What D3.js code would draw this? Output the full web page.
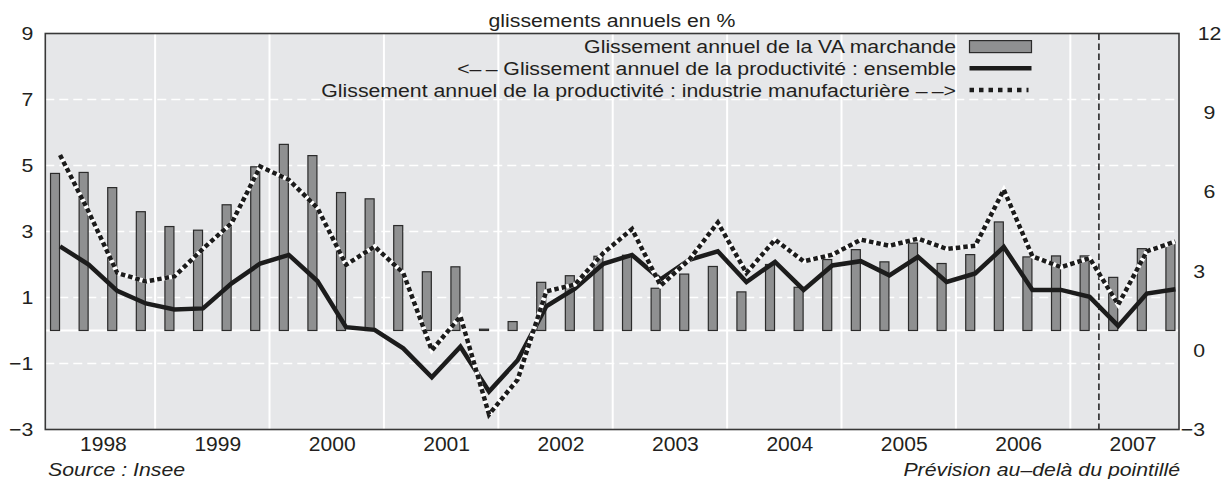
<!DOCTYPE html>
<html>
<head>
<meta charset="utf-8">
<script src="https://cdn.jsdelivr.net/npm/d3@7"></script>
<style>
  body { margin: 0; background: #fff; }
  svg text {
    font-family: "Liberation Sans", Arial, Helvetica, sans-serif;
    font-size: 18.5px;
    fill: #231f20;
  }
  svg text.italic { font-style: italic; }
  svg .years text { font-size: 19.5px; }
</style>
</head>
<body>
<svg id="chart" width="1225" height="479"></svg>
<script>
// glissements annuels trimestriels, 1998T1 - 2007T4
const years = [1998, 1999, 2000, 2001, 2002, 2003, 2004, 2005, 2006, 2007]
const quarters = years.flatMap(y => [1, 2, 3, 4].map(q => y + "T" + q))

// VA marchande : barres, axe de gauche
const vaMarchande = [
  4.76, 4.79, 4.33, 3.60,
  3.15, 3.04, 3.81, 4.96,
  5.64, 5.30, 4.18, 3.99,
  3.18, 1.78, 1.93, 0.04,
  0.27, 1.46, 1.66, 2.25,
  2.28, 1.28, 1.71, 1.94,
  1.17, 2.00, 1.31, 2.15,
  2.45, 2.08, 2.65, 2.03,
  2.30, 3.29, 2.23, 2.26,
  2.26, 1.61, 2.48, 2.62
]

// productivité, ensemble : trait plein, axe de gauche
const prodEnsemble = [
  2.55, 2.00, 1.20, 0.82,
  0.64, 0.67, 1.43, 2.03,
  2.29, 1.50, 0.10, 0.02,
  -0.54, -1.42, -0.49, -1.85,
  -0.90, 0.73, 1.27, 2.02,
  2.29, 1.55, 2.14, 2.40,
  1.47, 2.08, 1.23, 1.97,
  2.10, 1.67, 2.23, 1.47,
  1.73, 2.53, 1.23, 1.23,
  1.02, 0.14, 1.12, 1.25
]

// productivité, industrie manufacturière : pointillés, axe de droite
const prodManuf = [
  7.40, 5.25, 2.93, 2.61,
  2.80, 3.85, 4.82, 6.96,
  6.46, 5.39, 3.24, 3.93,
  2.93, 0.00, 1.29, -2.43,
  -1.11, 2.23, 2.49, 3.69,
  4.59, 2.45, 3.43, 4.84,
  2.93, 4.19, 3.37, 3.62,
  4.19, 3.96, 4.23, 3.84,
  3.96, 6.08, 3.56, 3.15,
  3.49, 1.73, 3.75, 4.12
]

const leftTicks = [-3, -1, 1, 3, 5, 7, 9]
const rightTicks = [-3, 0, 3, 6, 9, 12]
const gridValues = [-1, 1, 3, 5, 7]
const forecastStart = 2007.25

const title = "glissements annuels en %"
const legendLabels = [
  "Glissement annuel de la VA marchande",
  "<\u2013\u2009\u2013 Glissement annuel de la productivité : ensemble",
  "Glissement annuel de la productivité : industrie manufacturière \u2013\u2009\u2013>"
]
const sourceNote = "Source : Insee"
const forecastNote = "Prévision au\u2013delà du pointillé"

// ---- layout ----
const plot = { left: 45.3, top: 33.5, right: 1179, bottom: 429.5 }
const SX = 1.15      // the source lettering is stretched sideways
const barW = 10

const svg = d3.select("#chart")

const x = d3.scaleLinear().domain([1998.04, 2007.95]).range([plot.left, plot.right])
const yL = d3.scaleLinear().domain([-3, 9]).range([plot.bottom, plot.top])
const yR = d3.scaleLinear().domain([-3, 12]).range([plot.bottom, plot.top])

const data = quarters.map((q, i) => ({
  q,
  t: years[0] + i / 4 + 0.125,
  va: vaMarchande[i],
  ens: prodEnsemble[i],
  manuf: prodManuf[i]
}))

// stretch a text about its anchor point
function stretch(sel, sx) {
  sel.each(function () {
    const t = d3.select(this)
    const ax = +t.attr("x") || 0
    t.attr("transform", `translate(${ax * (1 - sx)},0) scale(${sx},1)`)
  })
}

function addText(px, py, str, anchor, cls) {
  return svg.append("text")
    .attr("class", cls || null)
    .attr("text-anchor", anchor)
    .attr("transform", `translate(${px},${py}) scale(${SX},1)`)
    .text(str)
}

// background
svg.append("rect")
  .attr("x", plot.left).attr("y", plot.top)
  .attr("width", plot.right - plot.left)
  .attr("height", plot.bottom - plot.top)
  .attr("fill", "#e6e7e9")

// horizontal dashed grid
svg.append("g").selectAll("line").data(gridValues).join("line")
  .attr("x1", plot.left).attr("x2", plot.right)
  .attr("y1", d => yL(d)).attr("y2", d => yL(d))
  .attr("stroke", "#fff").attr("stroke-width", 1.5)
  .attr("stroke-dasharray", "9,5")

// year separators
svg.append("g").selectAll("line").data(years.slice(1)).join("line")
  .attr("x1", d => x(d)).attr("x2", d => x(d))
  .attr("y1", plot.top).attr("y2", plot.bottom)
  .attr("stroke", "#fff").attr("stroke-width", 2)

// zero line
svg.append("line")
  .attr("x1", plot.left).attr("x2", plot.right)
  .attr("y1", yL(0)).attr("y2", yL(0))
  .attr("stroke", "#fff").attr("stroke-width", 2)

// forecast marker
svg.append("line")
  .attr("x1", x(forecastStart)).attr("x2", x(forecastStart))
  .attr("y1", plot.top).attr("y2", plot.bottom)
  .attr("stroke", "#1a1a1a").attr("stroke-width", 1.5)
  .attr("stroke-dasharray", "6.5,3.5")

// bars
svg.append("g").selectAll("rect").data(data).join("rect")
  .attr("x", d => x(d.t) - (barW - 1) / 2)
  .attr("y", d => Math.min(yL(d.va), yL(0)))
  .attr("width", barW - 1)
  .attr("height", d => Math.abs(yL(0) - yL(d.va)))
  .attr("fill", "#8f9091")
  .attr("stroke", "#2b2b2b")
  .attr("stroke-width", 1.2)

// lines (points sit on the right edge of each bar)
const lineEns = d3.line().x(d => x(d.t) + barW / 2).y(d => yL(d.ens))
const lineManuf = d3.line().x(d => x(d.t) + barW / 2).y(d => yR(d.manuf))

svg.append("path").datum(data)
  .attr("d", lineEns)
  .attr("fill", "none")
  .attr("stroke", "#1c1c1c")
  .attr("stroke-width", 4.5)
  .attr("stroke-linejoin", "miter")

svg.append("path").datum(data)
  .attr("d", lineManuf)
  .attr("fill", "none")
  .attr("stroke", "#fff")
  .attr("stroke-width", 4.5)
svg.append("path").datum(data)
  .attr("d", lineManuf)
  .attr("fill", "none")
  .attr("stroke", "#1c1c1c")
  .attr("stroke-width", 4.5)
  .attr("stroke-dasharray", "4.5,3")

// frame
svg.append("rect")
  .attr("x", plot.left).attr("y", plot.top)
  .attr("width", plot.right - plot.left)
  .attr("height", plot.bottom - plot.top)
  .attr("fill", "none")
  .attr("stroke", "#383838")
  .attr("stroke-width", 1.6)

// axes
const gLeft = svg.append("g")
  .attr("transform", `translate(${plot.left},0)`)
  .call(d3.axisLeft(yL).tickValues(leftTicks).tickSize(0).tickPadding(12).tickFormat(d3.format("d")))
gLeft.select(".domain").remove()
gLeft.selectAll("text").call(stretch, SX)

const gRight = svg.append("g")
  .attr("transform", `translate(${plot.right},0)`)
  .call(d3.axisRight(yR).tickValues(rightTicks).tickSize(0).tickFormat(d3.format("d")))
gRight.select(".domain").remove()
// upper labels sit a little further right in the source
gRight.selectAll("text")
  .attr("text-anchor", d => d >= 6 ? "middle" : "end")
  .attr("x", d => d >= 6 ? 30.5 : 26)
  .call(stretch, SX)

const gBottom = svg.append("g")
  .attr("class", "years")
  .attr("transform", `translate(${barW / 2},${plot.bottom})`)
  .call(d3.axisBottom(x).tickValues(years.map(y => y + 0.5)).tickSize(0).tickPadding(7.5)
    .tickFormat(d => String(Math.floor(d))))
gBottom.select(".domain").remove()
gBottom.selectAll("text").call(stretch, 1.08)

// title
addText(612, 27, title, "middle")

// legend
const legendRight = 956
const legendTop = 53.3
const legendStep = 21.7
const swX0 = 969.5, swX1 = 1031.5

legendLabels.forEach((label, i) => {
  const by = legendTop + i * legendStep
  const cy = by - 6.7
  addText(legendRight, by, label, "end")
  if (i === 0) {
    svg.append("rect")
      .attr("x", swX0).attr("y", cy - 6)
      .attr("width", swX1 - swX0).attr("height", 12)
      .attr("fill", "#8f9091").attr("stroke", "#2b2b2b").attr("stroke-width", 1.2)
  } else if (i === 1) {
    svg.append("line")
      .attr("x1", swX0).attr("x2", swX1).attr("y1", cy).attr("y2", cy)
      .attr("stroke", "#1c1c1c").attr("stroke-width", 4.5)
  } else {
    svg.append("line")
      .attr("x1", swX0).attr("x2", swX1 - 3).attr("y1", cy).attr("y2", cy)
      .attr("stroke", "#1c1c1c").attr("stroke-width", 4.5)
      .attr("stroke-dasharray", "4.5,5")
  }
})

// notes
addText(48, 476, sourceNote, "start", "italic")
addText(1180, 476, forecastNote, "end", "italic")
</script>
</body>
</html>
